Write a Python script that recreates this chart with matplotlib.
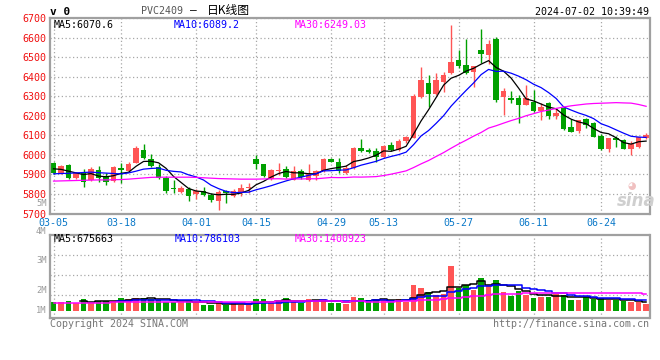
import matplotlib
matplotlib.use('Agg')
import matplotlib.pyplot as plt
import pandas as pd

plt.rcParams['font.family'] = ['DejaVu Sans Mono', 'Noto Sans CJK SC']

# daily bars, PVC2409
dates = ['03-05', '03-06', '03-07', '03-08', '03-11', '03-12', '03-13', '03-14', '03-15',
         '03-18', '03-19', '03-20', '03-21', '03-22', '03-25', '03-26', '03-27', '03-28', '03-29',
         '04-01', '04-02', '04-03', '04-08', '04-09', '04-10', '04-11', '04-12',
         '04-15', '04-16', '04-17', '04-18', '04-19', '04-22', '04-23', '04-24', '04-25', '04-26',
         '04-29', '04-30', '05-06', '05-07', '05-08', '05-09', '05-10',
         '05-13', '05-14', '05-15', '05-16', '05-17', '05-20', '05-21', '05-22', '05-23', '05-24',
         '05-27', '05-28', '05-29', '05-30', '05-31', '06-03', '06-04', '06-05', '06-06', '06-07',
         '06-11', '06-12', '06-13', '06-14', '06-17', '06-18', '06-19', '06-20', '06-21',
         '06-24', '06-25', '06-26', '06-27', '06-28', '07-01', '07-02']

opens = [5960, 5909, 5951, 5880, 5905, 5874, 5922, 5891, 5866,
         5934, 5917, 5960, 6023, 5980, 5940, 5883, 5832, 5810, 5828,
         5798, 5813, 5797, 5763, 5815, 5789, 5809, 5830,
         5981, 5952, 5877, 5918, 5928, 5873, 5919, 5873, 5892, 5918,
         5980, 5963, 5905, 5932, 6036, 6026, 6020,
         5987, 6051, 6024, 6069, 6089, 6297, 6366, 6311, 6374, 6419,
         6485, 6460, 6426, 6537, 6511, 6593, 6297, 6292, 6292, 6258,
         6272, 6226, 6264, 6200, 6240, 6145, 6121, 6184, 6164,
         6098, 6030, 6087, 6076, 6030, 6043, 6087]
highs = [5963, 5950, 5955, 5915, 5929, 5937, 5943, 5906, 5942,
         5960, 5963, 6045, 6054, 6007, 5955, 5890, 5870, 5840, 5838,
         5825, 5837, 5805, 5820, 5818, 5825, 5850, 5857,
         6000, 5955, 5927, 5960, 5941, 5945, 5930, 5952, 5922, 5983,
         5986, 5984, 5948, 6040, 6082, 6035, 6036,
         6050, 6066, 6080, 6097, 6310, 6451, 6409, 6418, 6426, 6668,
         6537, 6593, 6455, 6646, 6588, 6602, 6344, 6327, 6306, 6357,
         6332, 6265, 6270, 6240, 6247, 6182, 6180, 6188, 6170,
         6105, 6087, 6095, 6080, 6072, 6091, 6110]
lows = [5900, 5900, 5875, 5875, 5837, 5866, 5861, 5848, 5861,
        5857, 5912, 5957, 5980, 5938, 5875, 5806, 5804, 5806, 5764,
        5773, 5790, 5760, 5717, 5756, 5782, 5790, 5806,
        5930, 5887, 5874, 5898, 5880, 5870, 5875, 5865, 5873, 5914,
        5962, 5908, 5900, 5930, 6014, 6010, 5964,
        5985, 6020, 6020, 6062, 6086, 6292, 6244, 6306, 6323, 6417,
        6446, 6417, 6349, 6470, 6468, 6272, 6203, 6268, 6166, 6255,
        6221, 6180, 6185, 6182, 6127, 6120, 6114, 6140, 6092,
        6027, 6017, 6041, 6028, 6000, 6035, 6082]
closes = [5905, 5943, 5880, 5909, 5861, 5929, 5880, 5861, 5937,
          5922, 5956, 6033, 5985, 5943, 5882, 5815, 5825, 5831, 5789,
          5816, 5797, 5768, 5809, 5803, 5813, 5832, 5834,
          5953, 5890, 5924, 5922, 5888, 5919, 5887, 5903, 5918, 5980,
          5962, 5917, 5935, 6036, 6018, 6016, 5987,
          6046, 6026, 6072, 6090, 6300, 6383, 6313, 6383, 6409, 6477,
          6456, 6422, 6455, 6515, 6568, 6280, 6327, 6279, 6258, 6292,
          6227, 6248, 6200, 6215, 6133, 6120, 6177, 6155, 6094,
          6030, 6087, 6074, 6030, 6057, 6090, 6104]
# volume, millions (chart scale)
volumes = [0.65, 0.65, 0.70, 0.585, 0.80, 0.585, 0.70, 0.70, 0.685,
           0.85, 0.80, 0.85, 0.85, 0.80, 0.75, 0.65, 0.65, 0.65, 0.70,
           0.65, 0.515, 0.515, 0.585, 0.515, 0.585, 0.515, 0.485,
           0.80, 0.80, 0.585, 0.70, 0.85, 0.65, 0.585, 0.80, 0.75, 0.80,
           0.585, 0.585, 0.55, 0.90, 0.835, 0.735, 0.80,
           0.765, 0.635, 0.80, 0.635, 1.50, 1.365, 1.15, 1.00, 1.05, 2.465,
           1.335, 1.50, 1.25, 1.85, 1.45, 1.75, 1.15, 0.95, 1.20, 1.00,
           0.85, 0.915, 0.90, 1.035, 0.985, 0.75, 0.75, 0.875, 0.81,
           0.825, 0.725, 0.725, 0.70, 0.665, 0.635, 0.56]

# moving-average values before a full window exists
ma5_head = [5929, 5926, 5917, 5908]
ma10_head = [5903, 5905, 5906, 5908, 5910, 5912, 5909, 5907, 5905]
ma30_head = [5866, 5867, 5868, 5869, 5870, 5871, 5872, 5872, 5873, 5874,
             5876, 5879, 5882, 5885, 5886, 5886, 5886, 5886, 5886, 5885,
             5883, 5881, 5879, 5878, 5877, 5876, 5876, 5876, 5877]
vol_ma30_head = [0.61, 0.61, 0.61, 0.62, 0.62, 0.62, 0.62, 0.62, 0.63, 0.63,
                 0.63, 0.63, 0.63, 0.64, 0.64, 0.64, 0.64, 0.64, 0.64, 0.64,
                 0.65, 0.65, 0.65, 0.65, 0.65, 0.66, 0.66, 0.66, 0.67]

date_ticks = ['03-05', '03-18', '04-01', '04-15', '04-29', '05-13', '05-27', '06-11', '06-24']
price_ticks = [5700, 5800, 5900, 6000, 6100, 6200, 6300, 6400, 6500, 6600, 6700]
vol_labels = ['5M', '4M', '3M', '2M', '1M']

RED = '#ff5555'
GREEN = '#00a000'
GRID = '#a8a8a8'
FRAME = '#a0a0a0'
W, H = 660, 360


def moving_average(values, window, head=None):
    s = pd.Series(values, dtype=float).rolling(window).mean()
    if head is not None:
        s.iloc[:len(head)] = head
    return s.values


def px(x, y):
    # pixel position -> figure fraction
    return x / W, 1 - y / H


x = list(range(len(dates)))
colors = [RED if c >= o else GREEN for o, c in zip(opens, closes)]
tick_idx = [dates.index(d) for d in date_ticks]

fig = plt.figure(figsize=(6.6, 3.6), dpi=100)
ax = fig.add_axes([50.5 / W, 1 - 213.5 / H, 599 / W, 195.2 / H])
axv = fig.add_axes([50.5 / W, 1 - 318.3 / H, 599 / W, 83.6 / H])

for a in (ax, axv):
    a.set_xlim(-0.4, 79.45)
    a.set_axisbelow(True)
    for s in a.spines.values():
        s.set_color(FRAME)
        s.set_linewidth(1.6)
    a.grid(True, color=GRID, linestyle=(0, (1, 2)), linewidth=0.9)
    a.set_xticks(tick_idx)
    a.tick_params(length=0)

# price panel
ax.vlines(x, lows, highs, colors=colors, linewidth=1.0)
bodies = [max(abs(c - o), 2) for o, c in zip(opens, closes)]
ax.bar(x, bodies, bottom=[min(o, c) for o, c in zip(opens, closes)],
       width=0.72, color=colors, linewidth=0)
ax.plot(x, moving_average(closes, 5, ma5_head), color='black', linewidth=0.9)
ax.plot(x, moving_average(closes, 10, ma10_head), color='#0000ff', linewidth=0.9)
ax.plot(x, moving_average(closes, 30, ma30_head), color='#ff00ff', linewidth=0.9)
ax.set_ylim(5700, 6700)
ax.set_yticks(price_ticks)
ax.set_yticklabels([str(p) for p in price_ticks], color='#f01010', fontsize=7.2)
ax.set_xticklabels(date_ticks, color='#0a78c8', fontsize=7.2)
ax.tick_params(axis='y', pad=3)
ax.tick_params(axis='x', pad=3)

# volume panel
axv.bar(x, [v - 0.22 for v in volumes], bottom=0.22, width=0.72, color=colors, linewidth=0)
axv.plot(x, moving_average(volumes, 5), color='black', linewidth=1.1, drawstyle='steps-mid')
axv.plot(x, moving_average(volumes, 10), color='#0000ff', linewidth=1.1, drawstyle='steps-mid')
axv.plot(x, moving_average(volumes, 30, vol_ma30_head), color='#ff00ff', linewidth=1.1,
         drawstyle='steps-mid')
axv.set_ylim(-0.165, 4.0)
axv.set_yticks([1, 2, 3])
axv.set_yticklabels([])
axv.set_xticklabels([])

for label, ypx in zip(vol_labels, [203.5, 232, 260.7, 290.7, 310.7]):
    fig.text(*px(46.5, ypx), label, color='#9a9a9a', fontsize=6.3, ha='right', va='center')

# headers
fig.text(*px(50, 12), 'v 0', fontsize=8, fontweight='bold', va='center')
fig.text(*px(140.5, 10.5), 'PVC2409', fontsize=7.2, color='#555555', va='center')
fig.text(*px(190, 10.5), '–', fontsize=8, va='center')
fig.text(*px(207, 10.5), '日K线图', fontsize=8.5, va='center',
         family=['Noto Sans CJK SC', 'DejaVu Sans'])
fig.text(*px(649, 12), '2024-07-02 10:39:49', fontsize=7.2, ha='right', va='center')

fig.text(*px(54, 24.5), 'MA5:6070.6', fontsize=7.2, va='center')
fig.text(*px(174, 24.5), 'MA10:6089.2', fontsize=7.2, color='#0000ff', va='center')
fig.text(*px(294.5, 24.5), 'MA30:6249.03', fontsize=7.2, color='#ff00ff', va='center')

fig.text(*px(54, 238.5), 'MA5:675663', fontsize=7.2, va='center')
fig.text(*px(174.5, 238.5), 'MA10:786103', fontsize=7.2, color='#0000ff', va='center')
fig.text(*px(294.5, 238.5), 'MA30:1400923', fontsize=7.2, color='#ff00ff', va='center')

fig.text(*px(50, 324), 'Copyright 2024 SINA.COM', fontsize=7.2, color='#777777', va='center')
fig.text(*px(649, 324), 'http://finance.sina.com.cn', fontsize=7.2, color='#777777',
         ha='right', va='center')

# faint logo
fig.text(*px(636, 201), 'sina', fontsize=12, color='#cfcfcf', fontweight='bold',
         style='italic', ha='center', va='center', family=['DejaVu Sans'])
fig.text(*px(632, 186), '◕', fontsize=7, color='#f0c0c0', ha='center', va='center',
         family=['DejaVu Sans'])

fig.savefig('out.png', dpi=100)
plt.close(fig)
